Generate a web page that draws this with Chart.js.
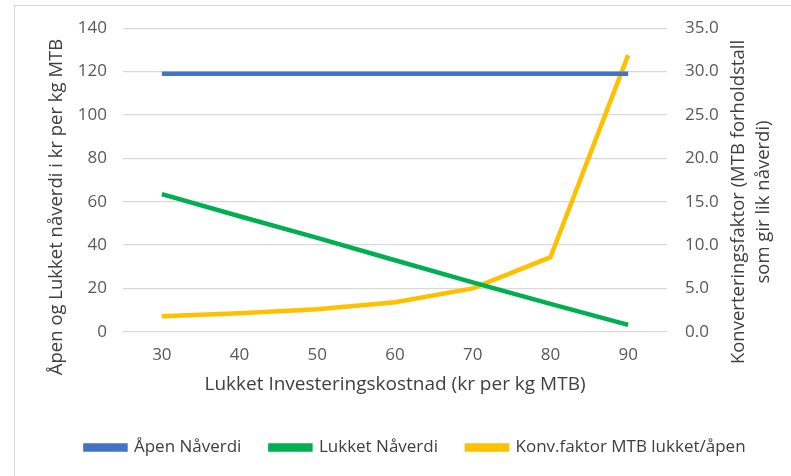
<!DOCTYPE html>
<html><head><meta charset="utf-8">
<script src="https://cdn.jsdelivr.net/npm/chart.js@4"></script>
<style>
html,body{margin:0;padding:0;background:#fff;}
#wrap{position:relative;width:791px;height:476px;overflow:hidden;}
#frame{position:absolute;left:14px;top:5px;width:800px;height:500px;border:1px solid #d9d9d9;box-sizing:border-box;}
canvas{position:absolute;left:0;top:0;}
</style></head>
<body><div id="wrap"><div id="frame"></div><canvas id="c" width="791" height="476"></canvas></div>
<script>
const categories = [30, 40, 50, 60, 70, 80, 90];
const apenNaverdi = [119, 119, 119, 119, 119, 119, 119];
const lukketNaverdi = [63.5, 53.3, 43.3, 33.0, 22.8, 12.9, 3.2];
const konvFaktor = [1.8, 2.15, 2.6, 3.4, 5.0, 8.6, 31.9];
const seriesNames = ['Åpen Nåverdi', 'Lukket Nåverdi', 'Konv.faktor MTB lukket/åpen'];
const leftTitle = 'Åpen og Lukket nåverdi i kr per kg MTB';
const rightTitle = ['Konverteringsfaktor (MTB forholdstall', 'som gir lik nåverdi)'];
const xTitle = 'Lukket Investeringskostnad (kr per kg MTB)';

const FONT = '"Open Sans", "Noto Sans", sans-serif';
const titlePlugin = {
  id: 'sideTitles',
  afterDraw(chart) {
    const ctx = chart.ctx;
    ctx.save();
    ctx.font = '18.5px ' + FONT;
    ctx.fillStyle = '#404040';
    ctx.textAlign = 'center';
    ctx.textBaseline = 'middle';
    ctx.save();
    ctx.translate(57, 207);
    ctx.rotate(-Math.PI / 2);
    ctx.fillText(leftTitle, 0, 0);
    ctx.restore();
    const xs = [739, 764];
    rightTitle.forEach((t, i) => {
      ctx.save();
      ctx.translate(xs[i], 202);
      ctx.rotate(-Math.PI / 2);
      ctx.fillText(t, 0, 0);
      ctx.restore();
    });
    ctx.restore();
  }
};

new Chart(document.getElementById('c'), {
  type: 'line',
  data: {
    labels: categories,
    datasets: [
      {label: seriesNames[0], data: apenNaverdi, borderColor: '#4472C4', backgroundColor: '#4472C4', borderWidth: 4.5, pointRadius: 0, yAxisID: 'y'},
      {label: seriesNames[1], data: lukketNaverdi, borderColor: '#00B050', backgroundColor: '#00B050', borderWidth: 4.5, pointRadius: 0, yAxisID: 'y'},
      {label: seriesNames[2], data: konvFaktor, borderColor: '#FFC000', backgroundColor: '#FFC000', borderWidth: 4.5, pointRadius: 0, yAxisID: 'y1'}
    ]
  },
  options: {
    responsive: false,
    animation: false,
    devicePixelRatio: 1,
    layout: {padding: {top: 21, left: 40, right: 0, bottom: 10}},
    plugins: {
      tooltip: {enabled: false},
      legend: {
        position: 'bottom',
        labels: {boxWidth: 40, boxHeight: 4, padding: 29, color: '#404040', font: {family: FONT, size: 17}}
      }
    },
    scales: {
      x: {
        offset: true,
        grid: {display: false, drawTicks: false},
        border: {display: false},
        ticks: {color: '#595959', font: {family: FONT, size: 17}, padding: 13, maxRotation: 0},
        title: {display: true, text: xTitle, color: '#404040', font: {family: FONT, size: 19}, padding: {top: -5, bottom: 14}}
      },
      y: {
        position: 'left', min: 0, max: 140,
        ticks: {stepSize: 20, color: '#595959', font: {family: FONT, size: 17}, padding: 16},
        grid: {color: '#d9d9d9', lineWidth: 1.3, drawTicks: false},
        border: {display: false},
        afterFit(s) { s.width = 83; }
      },
      y1: {
        position: 'right', min: 0, max: 35,
        ticks: {stepSize: 5, color: '#595959', font: {family: FONT, size: 17}, padding: 18, callback: v => v.toFixed(1)},
        grid: {display: false, drawTicks: false},
        border: {display: false},
        afterFit(s) { s.width = 124; }
      }
    }
  },
  plugins: [titlePlugin]
});
</script></body></html>
